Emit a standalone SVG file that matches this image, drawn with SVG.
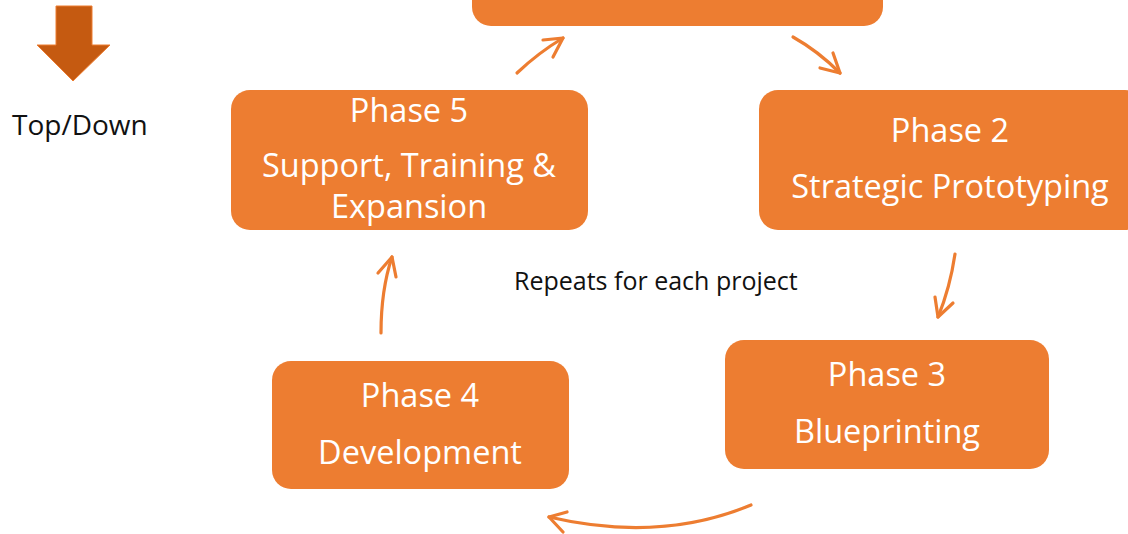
<svg xmlns="http://www.w3.org/2000/svg" width="1128" height="534" viewBox="0 0 1128 534">
<style>
.node{fill:#ED7D31;}
.nt{font-family:"Open Sans","Noto Sans",sans-serif;font-size:32.5px;fill:#FFFFFF;text-anchor:middle;}
.lbl{font-family:"Open Sans","Noto Sans",sans-serif;fill:#111111;}
.conn path{fill:none;stroke:#ED7D31;stroke-width:3.2;stroke-linecap:round;stroke-linejoin:round;}
</style>
<rect width="1128" height="534" fill="#FFFFFF"/>
<g id="topdown">
<polygon points="56,6 92,6 92,45 110,45 73,81 37,45 56,45" fill="#C55A11" stroke="#ED7D31" stroke-width="1"/>
<text class="lbl" x="12" y="135" font-size="28">Top/Down</text>
</g>
<g id="phase1">
<rect class="node" x="472" y="-40" width="411" height="66" rx="19"/>
</g>
<g id="phase5">
<rect class="node" x="231" y="90" width="357" height="140" rx="19"/>
<text class="nt" x="409" y="122">Phase 5</text>
<text class="nt" x="409" y="177">Support, Training &amp;<tspan x="409" dy="41">Expansion</tspan></text>
</g>
<g id="phase2">
<rect class="node" x="759" y="90" width="385" height="140" rx="19"/>
<text class="nt" x="950" y="142">Phase 2</text>
<text class="nt" x="950" y="198">Strategic Prototyping</text>
</g>
<g id="phase3">
<rect class="node" x="725" y="340" width="324" height="129" rx="19"/>
<text class="nt" x="887" y="386">Phase 3</text>
<text class="nt" x="887" y="443">Blueprinting</text>
</g>
<g id="phase4">
<rect class="node" x="272" y="361" width="297" height="128" rx="19"/>
<text class="nt" x="420" y="407">Phase 4</text>
<text class="nt" x="420" y="464">Development</text>
</g>
<g id="note">
<text class="lbl" x="514" y="290" font-size="25">Repeats for each project</text>
</g>
<g id="connectors" class="conn">
<path d="M517,73 Q538,53 563,38"/>
<path d="M543,40 L563,38 L553,57"/>
<path d="M793,37 Q818,51 840,73"/>
<path d="M820,68 L840,73 L833,53"/>
<path d="M955,254 Q950,288 938,317"/>
<path d="M935,297 L938,317 L953,303"/>
<path d="M751,505 Q660,543 549,517"/>
<path d="M567,512 L549,517 L563,532"/>
<path d="M381,333 Q381,290 392,257"/>
<path d="M378,273 L392,257 L396,277"/>
</g>
</svg>
